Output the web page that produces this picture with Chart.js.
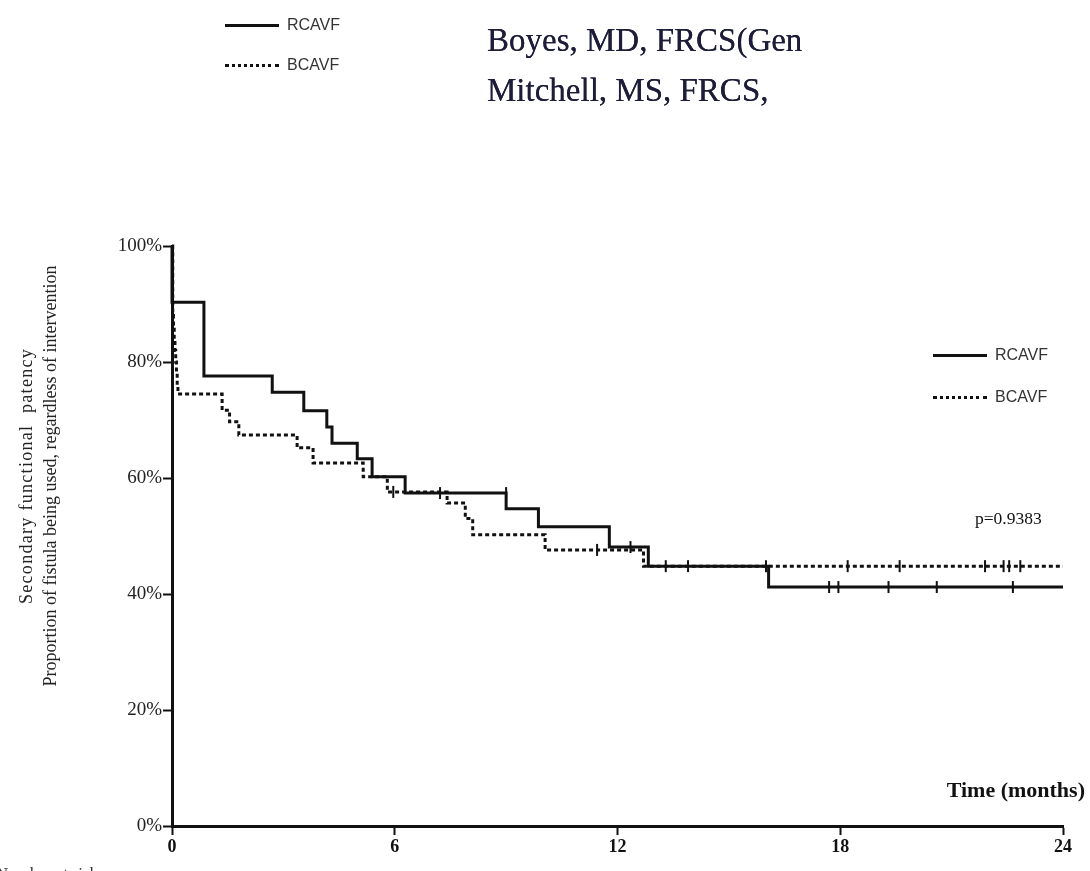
<!DOCTYPE html>
<html>
<head>
<meta charset="utf-8">
<script src="https://cdn.jsdelivr.net/npm/chart.js@4"></script>
<style>
  body { margin: 0; background: #fff; }
  #wrap { position: relative; width: 1090px; height: 871px; overflow: hidden; }
  #wrap canvas { position: absolute; left: 0; top: 0; }
  .key { position: absolute; font-family: Arial, "Liberation Sans", sans-serif; font-size: 16px; color: #333; line-height: 20px; }
  .key .ln { display: inline-block; width: 54px; vertical-align: middle; margin-right: 8px; }
  .solid { border-top: 3px solid #111; }
  .dots { border-top: 3px dotted #111; }
  .authors { position: absolute; left: 487px; top: 15px; font-family: "Liberation Serif", serif; font-size: 33px; color: #1d1d3a;
             line-height: 50px; white-space: nowrap; text-shadow: 0 0 0.6px #1d1d3a; }
  .ytitle { position: absolute; width: 520px; left: -222px; top: 452px; transform: rotate(-90deg); text-align: center;
            font-family: "Liberation Serif", serif; font-size: 18px; line-height: 24px; color: #222; white-space: nowrap; }
  .ytitle .l1 { letter-spacing: 1.3px; }
  .note { position: absolute; font-family: "Liberation Serif", serif; color: #111; white-space: nowrap; }
</style>
</head>
<body>
<div id="wrap">
  <canvas id="km"></canvas>

  <div class="key" style="left:225px; top:15px;"><span class="ln solid"></span>RCAVF</div>
  <div class="key" style="left:225px; top:55px;"><span class="ln dots"></span>BCAVF</div>

  <div class="authors">Boyes, MD, FRCS(Gen<br>Mitchell, MS, FRCS,</div>

  <div class="key" style="left:933px; top:345px;"><span class="ln solid"></span>RCAVF</div>
  <div class="key" style="left:933px; top:387px;"><span class="ln dots"></span>BCAVF</div>

  <div class="note" style="left:975px; top:508px; font-size:17.5px;">p=0.9383</div>
  <div class="note" style="right:5px; top:777px; font-size:22px; font-weight:bold;">Time (months)</div>

  <div class="ytitle"><span class="l1">Secondary functional&nbsp; patency</span><br>Proportion of fistula being used, regardless of intervention</div>

  <div class="note" style="left:-4px; top:864px; font-size:17px; color:#333;">Number at risk</div>
</div>

<script>
// Kaplan-Meier steps: time of drop (months) and survival after it (%)
const rcavfTime = [0, 0, 0.86, 2.7, 3.55, 4.17, 4.31, 4.99, 5.39, 6.28, 9.0, 9.87, 11.78, 12.83, 16.07, 24];
const rcavfSurv = [100, 90.3, 77.6, 74.8, 71.6, 68.8, 66.0, 63.3, 60.2, 57.4, 54.7, 51.6, 48.1, 44.8, 41.2, 41.2];

const bcavfTime = [0, 0.02, 0.04, 0.06, 0.08, 0.1, 0.12, 0.14, 0.16, 1.35, 1.55, 1.8, 3.37, 3.8, 5.15, 5.8, 7.41, 7.9, 8.1, 10.05, 12.7, 24];
const bcavfSurv = [100, 88, 86, 84, 82, 80, 78, 76, 74.5, 71.7, 69.7, 67.4, 65.2, 62.6, 60.2, 57.6, 55.7, 53.0, 50.2, 47.6, 44.8, 44.8];

// censored observations
const rcavfCensorTime = [7.22, 9.0, 12.35, 13.3, 13.9, 17.7, 17.95, 19.3, 20.6, 22.65];
const rcavfCensorSurv = [57.4, 57.4, 48.1, 44.8, 44.8, 41.2, 41.2, 41.2, 41.2, 41.2];
const bcavfCensorTime = [5.96, 11.45, 16.0, 18.2, 19.6, 21.9, 22.4, 22.55, 22.85];
const bcavfCensorSurv = [57.6, 47.6, 44.8, 44.8, 44.8, 44.8, 44.8, 44.8, 44.8];

const xTicks = [0, 6, 12, 18, 24];
const yTicks = [0, 20, 40, 60, 80, 100];

const toPoints = (xs, ys) => xs.map((x, i) => ({ x: x, y: ys[i] }));

const canvas = document.getElementById('km');
canvas.width = 1090;
canvas.height = 871;

const censorStyle = {
  type: 'scatter',
  pointStyle: 'line',
  rotation: 90,
  pointRadius: 6,
  pointBorderWidth: 2,
  borderColor: '#111',
  backgroundColor: '#111',
  clip: false
};

new Chart(canvas.getContext('2d'), {
  type: 'line',
  data: {
    datasets: [
      {
        label: 'RCAVF',
        data: toPoints(rcavfTime, rcavfSurv),
        stepped: 'before',
        borderColor: '#111',
        borderWidth: 3,
        pointRadius: 0,
        fill: false,
        clip: false
      },
      {
        label: 'BCAVF',
        data: toPoints(bcavfTime, bcavfSurv),
        stepped: 'before',
        borderColor: '#111',
        borderWidth: 3,
        borderDash: [4, 3],
        pointRadius: 0,
        fill: false,
        clip: false
      },
      Object.assign({ label: 'RCAVF censored', data: toPoints(rcavfCensorTime, rcavfCensorSurv) }, censorStyle),
      Object.assign({ label: 'BCAVF censored', data: toPoints(bcavfCensorTime, bcavfCensorSurv) }, censorStyle)
    ]
  },
  options: {
    responsive: false,
    animation: false,
    layout: { padding: { top: 246, right: 27, left: 0, bottom: 0 } },
    plugins: { legend: { display: false }, tooltip: { enabled: false } },
    scales: {
      x: {
        type: 'linear',
        min: 0,
        max: 24,
        afterBuildTicks: scale => { scale.ticks = xTicks.map(v => ({ value: v })); },
        afterFit: scale => { scale.height = 45; },
        border: { color: '#111', width: 3 },
        grid: { drawOnChartArea: false, color: '#111', tickLength: 9, tickWidth: 2 },
        ticks: { color: '#111', padding: 2, font: { family: 'Liberation Serif', size: 18, weight: 'bold' } }
      },
      y: {
        min: 0,
        max: 100,
        afterBuildTicks: scale => { scale.ticks = yTicks.map(v => ({ value: v })); },
        afterFit: scale => { scale.width = 172; },
        border: { color: '#111', width: 3 },
        grid: { drawOnChartArea: false, color: '#111', tickLength: 9, tickWidth: 2 },
        ticks: {
          color: '#222',
          padding: 1,
          font: { family: 'Liberation Serif', size: 19 },
          callback: v => v + '%'
        }
      }
    }
  }
});
</script>
</body>
</html>
